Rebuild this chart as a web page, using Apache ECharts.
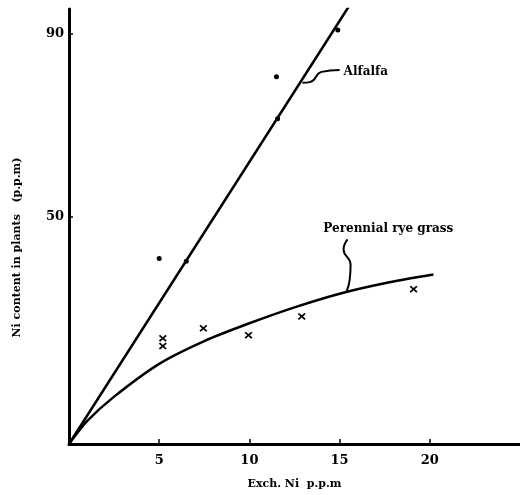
<!DOCTYPE html>
<html>
<head>
<meta charset="utf-8">
<script src="https://cdn.jsdelivr.net/npm/echarts@6/dist/echarts.min.js"></script>
<style>
html,body{margin:0;padding:0;background:#fff}
#c{width:520px;height:495px}
</style>
</head>
<body>
<div id="c"></div>
<script>
// tick labels
var xTicks = [5, 10, 15, 20];
var yTicks = [50, 90];

// Alfalfa: measured points and fitted line
var alfalfaPts = [[5, 40.7], [6.5, 40.1], [11.5, 80.6], [11.56, 71.4], [14.9, 90.9]];
var alfalfaLine = [[0, 0], [15.5, 96]];

// Perennial rye grass: measured points and curve
var ryePts = [[5.2, 23.2], [5.2, 21.5], [7.45, 25.4], [9.95, 23.9], [12.9, 28.0], [19.1, 34.0]];
var ryeCurve = [[0, 0], [1, 5.0], [2.5, 10.4], [5, 17.6], [7.5, 22.6], [10, 26.5],
                [12.5, 30.0], [15, 33.0], [17.5, 35.3], [20.2, 37.2]];

// annotation leaders and labels
var alfalfaLeader = [[12.94, 79.3], [13.39, 79.5], [14.0, 81.7], [15.0, 82.1]];
var ryeLeader = [[15.39, 33.5], [15.56, 36.1], [15.61, 39.4], [15.22, 42.7], [15.44, 44.9]];
var notes = [[16.45, 81.7, 'Alfalfa'], [17.7, 47.3, 'Perennial rye grass']];

var serif = '"DejaVu Serif", "Liberation Serif", serif';
var crossPath = 'path://M0,1.6L1.6,0L5,3.4L8.4,0L10,1.6L6.6,5L10,8.4L8.4,10L5,6.6L1.6,10L0,8.4L3.4,5Z';

var chart = echarts.init(document.getElementById('c'));
chart.setOption({
  animation: false,
  backgroundColor: '#fff',
  grid: {left: 69, right: 0, top: 9, bottom: 50},
  xAxis: {
    type: 'value', min: 0, max: 25,
    name: 'Exch. Ni  p.p.m', nameLocation: 'middle', nameGap: 35,
    nameTextStyle: {fontFamily: serif, fontWeight: 'bold', fontSize: 11, color: '#000'},
    axisLine: {lineStyle: {color: '#000', width: 3}},
    axisTick: {inside: true, length: 5, customValues: xTicks, lineStyle: {color: '#000', width: 1.5}},
    axisLabel: {customValues: xTicks, fontFamily: serif, fontWeight: 'bold', fontSize: 13, color: '#000', margin: 10},
    splitLine: {show: false}
  },
  yAxis: {
    type: 'value', min: 0, max: 95.5,
    name: 'Ni content in plants   (p.p.m)', nameLocation: 'middle', nameGap: 46, nameRotate: 90,
    nameTextStyle: {fontFamily: serif, fontWeight: 'bold', fontSize: 11, color: '#000', padding: [0, 42, 0, 0]},
    axisLine: {lineStyle: {color: '#000', width: 3}},
    axisTick: {inside: true, length: 4, customValues: yTicks, lineStyle: {color: '#000', width: 1.5}},
    axisLabel: {customValues: yTicks, fontFamily: serif, fontWeight: 'bold', fontSize: 13, color: '#000', margin: 5},
    splitLine: {show: false}
  },
  series: [
    {type: 'line', data: alfalfaLine, symbol: 'none', lineStyle: {color: '#000', width: 2.5}},
    {type: 'line', data: ryeCurve, smooth: 0.25, symbol: 'none', lineStyle: {color: '#000', width: 2.5}},
    {type: 'scatter', data: alfalfaPts, symbol: 'circle', symbolSize: 5, itemStyle: {color: '#000', opacity: 1}},
    {type: 'scatter', data: ryePts, symbol: crossPath, symbolSize: [8, 7], itemStyle: {color: '#000', opacity: 1}},
    {type: 'line', data: alfalfaLeader, smooth: true, symbol: 'none', lineStyle: {color: '#000', width: 2}},
    {type: 'line', data: ryeLeader, smooth: true, symbol: 'none', lineStyle: {color: '#000', width: 2}},
    {type: 'scatter', data: notes, symbolSize: 0, itemStyle: {opacity: 1},
     label: {show: true, position: 'inside', formatter: function (p) { return p.value[2]; },
             fontFamily: serif, fontWeight: 'bold', fontSize: 12, color: '#000'}}
  ]
});
</script>
</body>
</html>
